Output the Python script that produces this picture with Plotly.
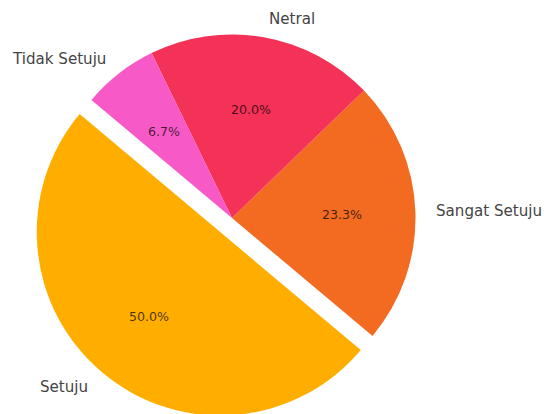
import math
import plotly.graph_objects as go

# ---- data ----
labels = ["Setuju", "Sangat Setuju", "Netral", "Tidak Setuju"]
values = [15, 7, 6, 2]
explode = [0.1, 0, 0, 0]
colors = ["#FFAE00", "#F26B21", "#F43157", "#F75AC6"]
start_angle = 140  # degrees, counterclockwise from 3 o'clock (matplotlib style)

# ---- layout geometry (pixels) ----
W, H = 544, 430
cx, cy, R = 232, 218, 183.5
pull_max = max(explode)
half = R * (1 + pull_max)
dom_x = [(cx - half) / W, (cx + half) / W]
dom_y = [1 - (cy + half) / H, 1 - (cy - half) / H]

total = sum(values)
first_span = values[0] / total * 360
rotation = 90 - start_angle - first_span
while rotation < -360:
    rotation += 360
while rotation > 360:
    rotation -= 360

fig = go.Figure(
    go.Pie(
        labels=labels,
        values=values,
        sort=False,
        direction="counterclockwise",
        rotation=rotation,
        pull=explode,
        marker=dict(colors=colors, line=dict(width=0)),
        textinfo="none",
        hoverinfo="label+percent",
        domain=dict(x=dom_x, y=dom_y),
        showlegend=False,
    )
)

# matplotlib-like label and percentage placement derived from the data
annotations = []
theta = start_angle
for lab, val, ex in zip(labels, values, explode):
    span = val / total * 360
    mid = math.radians(theta + span / 2)
    ox = cx + ex * R * math.cos(mid)
    oy = cy - ex * R * math.sin(mid)
    # outer label
    lx = ox + 1.1 * R * math.cos(mid)
    ly = oy - 1.1 * R * math.sin(mid)
    annotations.append(dict(
        x=lx / W, y=1 - ly / H, xref="paper", yref="paper",
        text=lab, showarrow=False,
        xanchor="left" if math.cos(mid) > 0 else "right", yanchor="middle",
        font=dict(family="DejaVu Sans", size=15.1, color="#444444"),
    ))
    # percentage
    px = ox + 0.6 * R * math.cos(mid)
    py = oy - 0.6 * R * math.sin(mid)
    annotations.append(dict(
        x=px / W, y=1 - py / H, xref="paper", yref="paper",
        text=f"{val / total * 100:.1f}%", showarrow=False,
        xanchor="center", yanchor="middle",
        font=dict(family="DejaVu Sans", size=12.6, color="rgba(0,0,0,0.72)"),
    ))
    theta += span

fig.update_layout(
    width=W, height=H,
    margin=dict(l=0, r=0, t=0, b=0),
    paper_bgcolor="white",
    plot_bgcolor="white",
    annotations=annotations,
)

fig.write_html(
    "out.html",
    config={"displayModeBar": False},
    post_script="document.body.style.margin='0';document.body.style.overflow='hidden';",
)
